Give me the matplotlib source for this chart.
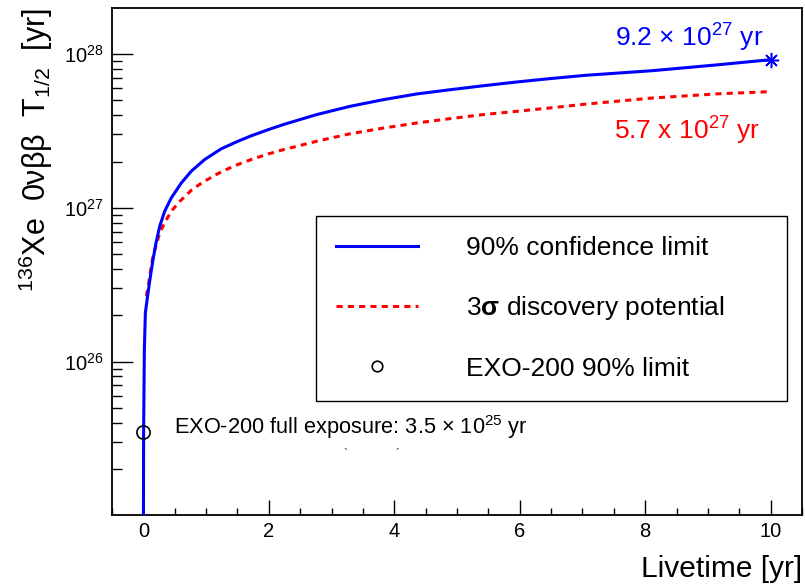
import matplotlib
matplotlib.use("Agg")
import matplotlib.pyplot as plt
from matplotlib.ticker import FixedLocator, MultipleLocator, NullFormatter, LogFormatterSciNotation

plt.rcParams['font.family'] = ['Liberation Sans', 'DejaVu Sans']
plt.rcParams['mathtext.fontset'] = 'custom'
plt.rcParams['mathtext.rm'] = 'Liberation Sans'
plt.rcParams['mathtext.it'] = 'Liberation Sans:italic'
plt.rcParams['mathtext.bf'] = 'Liberation Sans:bold'

# 90% CL half-life sensitivity vs. livetime [yr]
livetime_limit = [0.001, 0.004, 0.016, 0.032, 0.075, 0.118, 0.154, 0.207, 0.261,
                  0.340, 0.445, 0.604, 0.763, 0.976, 1.24, 1.506, 1.717, 1.986,
                  2.23, 2.76, 3.29, 3.82, 4.35, 4.88, 5.41, 5.94, 6.47, 7.05,
                  8.11, 9.17, 10.0]
halflife_limit = [8e24, 3.5e25, 1.20e26, 2.08e26, 2.81e26, 3.72e26, 4.61e26, 6.07e26,
                  7.60e26, 9.51e26, 1.16e27, 1.45e27, 1.73e27, 2.06e27, 2.42e27,
                  2.71e27, 2.94e27, 3.22e27, 3.48e27, 4.04e27, 4.57e27, 5.05e27,
                  5.50e27, 5.86e27, 6.22e27, 6.58e27, 6.92e27, 7.28e27, 7.80e27,
                  8.53e27, 9.2e27]

# 3 sigma discovery potential vs. livetime [yr]
livetime_disc = [0.048, 0.086, 0.118, 0.154, 0.207, 0.261, 0.340, 0.445, 0.579,
                 0.763, 0.949, 1.188, 1.453, 1.717, 1.956, 2.23, 2.76, 3.29, 3.82,
                 4.35, 4.88, 5.41, 5.94, 6.47, 7.05, 8.11, 9.17, 10.0]
halflife_disc = [2.67e26, 3.26e26, 3.97e26, 4.85e26, 5.78e26, 6.89e26, 8.00e26,
                 9.51e26, 1.10e27, 1.30e27, 1.47e27, 1.67e27, 1.88e27, 2.06e27,
                 2.22e27, 2.39e27, 2.71e27, 3.03e27, 3.30e27, 3.56e27, 3.80e27,
                 4.04e27, 4.24e27, 4.46e27, 4.73e27, 5.18e27, 5.52e27, 5.7e27]

# EXO-200 full-exposure limit
exo_livetime = 0.0
exo_limit = 3.5e25

legend_labels = ['90% confidence limit', r'3$\mathbf{\sigma}$ discovery potential',
                 'EXO-200 90% limit']

fig = plt.figure(figsize=(8.05, 5.88), dpi=100)
W, H = 805.0, 588.0
ax = fig.add_axes([112 / W, 1 - 515.3 / H, 690 / W, (515.3 - 8) / H])

ax.plot(livetime_limit, halflife_limit, color='#0000ff', lw=2.2,
        label=legend_labels[0], zorder=3)
ax.plot(livetime_disc, halflife_disc, color='#ff0000', lw=2.2,
        ls=(0, (2.0, 1.7)), label=legend_labels[1], zorder=2)
ax.plot([exo_livetime], [exo_limit], 'o', mfc='none', mec='black', ms=9.5,
        mew=1.2, label=legend_labels[2], zorder=4)
ax.plot([livetime_limit[-1]], [halflife_limit[-1]], marker=(8, 2, 0),
        color='#0000ff', ms=11, mew=1.1, ls='none', zorder=4)

ax.set_yscale('log')
ax.set_xlim(-0.5, 10.5)
ax.set_ylim(1e25, 10.0 ** 28.30)

ax.xaxis.set_major_locator(MultipleLocator(2))
ax.xaxis.set_minor_locator(MultipleLocator(0.5))
ax.yaxis.set_major_locator(FixedLocator([1e26, 1e27, 1e28]))
ax.yaxis.set_major_formatter(LogFormatterSciNotation())
ax.yaxis.set_minor_locator(FixedLocator([m * 10.0 ** e for e in (25, 26, 27, 28)
                                         for m in range(2, 10)]))
ax.yaxis.set_minor_formatter(NullFormatter())

ax.tick_params(axis='both', which='both', direction='in', top=False, right=False,
               width=1.0, colors='black', labelsize=14.5)
ax.tick_params(axis='x', which='major', length=10.8, pad=5)
ax.tick_params(axis='x', which='minor', length=5)
ax.tick_params(axis='y', which='major', length=15, pad=6)
ax.tick_params(axis='y', which='minor', length=7.5)
for sp in ax.spines.values():
    sp.set_linewidth(1.3)

# value annotations
ax.annotate(r'9.2 × 10$^{27}$ yr', xy=(livetime_limit[-1], halflife_limit[-1]),
            xytext=(-5.5, 9.4), textcoords='offset points', ha='right',
            va='baseline', color='#0000ff', fontsize=19)
ax.annotate(r'5.7 x 10$^{27}$ yr', xy=(livetime_disc[-1], halflife_disc[-1]),
            xytext=(-7.7, -34.6), textcoords='offset points', ha='right',
            va='baseline', color='#ff0000', fontsize=19)
ax.annotate(r'EXO-200 full exposure: 3.5 $\times$ 10$^{25}$ yr',
            xy=(exo_livetime, exo_limit), xytext=(22, -1.5),
            textcoords='offset points', ha='left', va='baseline',
            color='black', fontsize=15.7)

fig.text(345 / W, 1 - 455 / H, '`', fontsize=9, color='#333333', ha='center', va='center')
fig.text(398 / W, 1 - 455 / H, '´', fontsize=9, color='#333333', ha='center', va='center')

leg = ax.legend(loc='upper left',
                bbox_to_anchor=(316 / W, 1 - 398 / H, 471 / W, 182 / H),
                bbox_transform=fig.transFigure, mode='expand', fontsize=19,
                frameon=True, fancybox=False, framealpha=1, edgecolor='black',
                borderpad=0.76, labelspacing=1.3, handlelength=3.1,
                handletextpad=1.82, numpoints=1, markerscale=0.8,
                borderaxespad=0)
leg.get_frame().set_linewidth(1.0)

# axis titles
fig.text(35.5 / W, 1 - 8 / H, r'$^{136}$Xe  0νββ  T$_{1/2}$  [yr]', rotation=90,
         ha='center', va='top', fontsize=22)
fig.text(802 / W, 1 - 577 / H, 'Livetime [yr]', ha='right', va='baseline',
         fontsize=21.5)

fig.savefig('out.png', dpi=100, facecolor='white')
